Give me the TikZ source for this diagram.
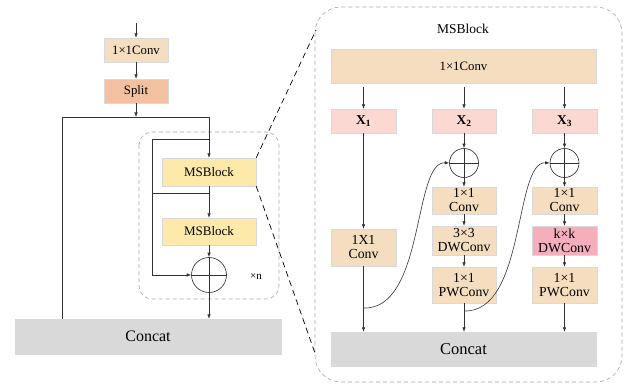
\documentclass[tikz,border=0pt]{standalone}
\usepackage{fontspec}
\setmainfont{Liberation Serif}
\usetikzlibrary{arrows.meta}
\definecolor{cbeige}{HTML}{F5DEC0}
\definecolor{csalmon}{HTML}{F3C19F}
\definecolor{cyellow}{HTML}{FDE9A9}
\definecolor{clpink}{HTML}{FBD8D2}
\definecolor{cpink}{HTML}{F5AEBB}
\definecolor{cgray}{HTML}{D9D9D9}
\begin{document}
\begin{tikzpicture}[x=1pt,y=-1pt,
  box/.style={draw=black!15,line width=0.4pt,inner sep=0pt,align=center},
  plus/.style={circle,draw=black!85,line width=0.6pt,inner sep=0pt},
  ln/.style={draw=black!80,line width=0.6pt},
  arr/.style={ln,-{Latex[length=4.5pt,width=3.5pt]}},
  dbox/.style={draw=black!35,dashed,dash pattern=on 4pt off 3pt,line width=0.6pt,rounded corners=20pt},
  dlink/.style={draw=black,dashed,dash pattern=on 6pt off 4pt,line width=0.7pt},
  ftxt/.style={font=\fontsize{13.8}{14}\selectfont}
]
\useasboundingbox (0,0) rectangle (624,385);

% ---------- left part ----------
\draw[dbox,rounded corners=13pt] (139,132) rectangle (279,299);
\draw[dbox,rounded corners=26pt] (315,7) rectangle (622,382);

\coordinate (in) at (136,23);
\node[box,fill=cbeige,minimum width=64pt,minimum height=24pt,font=\fontsize{12.8}{14}\selectfont] (conv1) at (136,50) {1×1Conv};
\node[box,fill=csalmon,minimum width=64pt,minimum height=24pt,font=\fontsize{12.8}{14}\selectfont] (split) at (136,91) {Split};
\node[box,fill=cyellow,minimum width=94pt,minimum height=28pt,font=\fontsize{13}{14}\selectfont] (msb1) at (209,172) {MSBlock};
\node[box,fill=cyellow,minimum width=94pt,minimum height=27pt,font=\fontsize{13}{14}\selectfont] (msb2) at (209,231.5) {MSBlock};
\node[plus,minimum size=35pt] (c1) at (209,275) {};
\node[font=\fontsize{11}{12}\selectfont] (xn) at (256,277) {×n};
\node[box,fill=cgray,minimum width=266pt,minimum height=35pt,font=\fontsize{16}{18}\selectfont] (catL) at (148,336.5) {Concat};

\coordinate (s) at (136,117);
\coordinate (j1) at (62,117);
\coordinate (j2) at (209,117);
\coordinate (k1) at (152,139);
\coordinate (k2) at (209,139);
\coordinate (k3) at (152,193);
\coordinate (k4) at (209,193);

\draw[arr] (in) -- (conv1.north);
\draw[arr] (conv1.south) -- (split.north);
\draw[arr] (split.south) -- (s);
\draw[ln] (j1) -- (j2);
\draw[ln] (j1) -- (j1 |- catL.north);
\draw[arr] (j2) -- (msb1.north);
\draw[ln] (k2) -- (k1);
\draw[ln] (k3) -- (k4);
\draw[arr] (k1) -- (k1 |- c1.west) -- (c1.west);
\draw[arr] (msb1.south) -- (msb2.north);
\draw[arr] (msb2.south) -- (c1.north);
\draw[ln] (c1.north) -- (c1.south);
\draw[ln] (c1.west) -- (c1.east);
\draw[arr] (c1.south) -- (c1.south |- catL.north);

\coordinate (bt) at (316,30);
\coordinate (bb) at (316,356);
\draw[dlink] (msb1.north east) -- (bt);
\draw[dlink] (msb1.south east) -- (bb);

% ---------- right part ----------
\node[font=\fontsize{13.5}{14}\selectfont] (title) at (463,29) {MSBlock};
\node[box,fill=cbeige,minimum width=265pt,minimum height=34pt,font=\fontsize{12.8}{14}\selectfont] (convR) at (463.5,66) {1×1Conv};

\node[box,fill=clpink,minimum width=65pt,minimum height=24pt,font=\fontsize{13.5}{14}\selectfont\bfseries] (x1) at (363.5,121) {X\textsubscript{1}};
\node[box,fill=clpink,minimum width=64pt,minimum height=24pt,font=\fontsize{13.5}{14}\selectfont\bfseries] (x2) at (464,121) {X\textsubscript{2}};
\node[box,fill=clpink,minimum width=65pt,minimum height=24pt,font=\fontsize{13.5}{14}\selectfont\bfseries] (x3) at (564.5,121) {X\textsubscript{3}};

\node[plus,minimum size=29pt] (c2) at (464,163) {};
\node[plus,minimum size=29pt] (c3) at (564.5,163) {};

\node[box,fill=cbeige,minimum width=65pt,minimum height=37pt,ftxt] (b1) at (363.5,247.5) {1X1\\Conv};

\node[box,fill=cbeige,minimum width=64pt,minimum height=27pt,ftxt] (a1) at (464,200.5) {1×1\\Conv};
\node[box,fill=cbeige,minimum width=64pt,minimum height=29pt,ftxt] (a2) at (464,240.5) {3×3\\DWConv};
\node[box,fill=cbeige,minimum width=64pt,minimum height=36pt,ftxt] (a3) at (464,285) {1×1\\PWConv};

\node[box,fill=cbeige,minimum width=65pt,minimum height=27pt,ftxt] (d1) at (564.5,200.5) {1×1\\Conv};
\node[box,fill=cpink,minimum width=65pt,minimum height=29pt,ftxt] (d2) at (564.5,240.5) {k×k\\DWConv};
\node[box,fill=cbeige,minimum width=65pt,minimum height=36pt,ftxt] (d3) at (564.5,285) {1×1\\PWConv};

\node[box,fill=cgray,minimum width=265pt,minimum height=34pt,font=\fontsize{16.5}{18}\selectfont] (catR) at (463.5,349) {Concat};

\draw[arr] ([yshift=-4pt]x1.north |- convR.south) -- (x1.north);
\draw[arr] ([yshift=-4pt]x2.north |- convR.south) -- (x2.north);
\draw[arr] ([yshift=-4pt]x3.north |- convR.south) -- (x3.north);

\draw[arr] (x1.south) -- (b1.north);
\draw[arr] (b1.south) -- (b1.south |- catR.north);

\draw[arr] (x2.south) -- (c2.north);
\draw[ln] (c2.north) -- (c2.south);
\draw[ln] (c2.west) -- (c2.east);
\draw[arr] (c2.south) -- (a1.north);
\draw[arr] (a1.south) -- (a2.north);
\draw[arr] (a2.south) -- (a3.north);
\draw[arr] (a3.south) -- (a3.south |- catR.north);

\draw[arr] (x3.south) -- (c3.north);
\draw[ln] (c3.north) -- (c3.south);
\draw[ln] (c3.west) -- (c3.east);
\draw[arr] (c3.south) -- (d1.north);
\draw[arr] (d1.south) -- (d2.north);
\draw[arr] (d2.south) -- (d3.north);
\draw[arr] (d3.south) -- (d3.south |- catR.north);

\coordinate (m1) at (363.5,308);
\coordinate (m2) at (464,311);
\draw[arr] (m1) .. controls (425,310) and (413,161) .. (c2.west);
\draw[arr] (m2) .. controls (526,313) and (514,161) .. (c3.west);
\end{tikzpicture}
\end{document}
